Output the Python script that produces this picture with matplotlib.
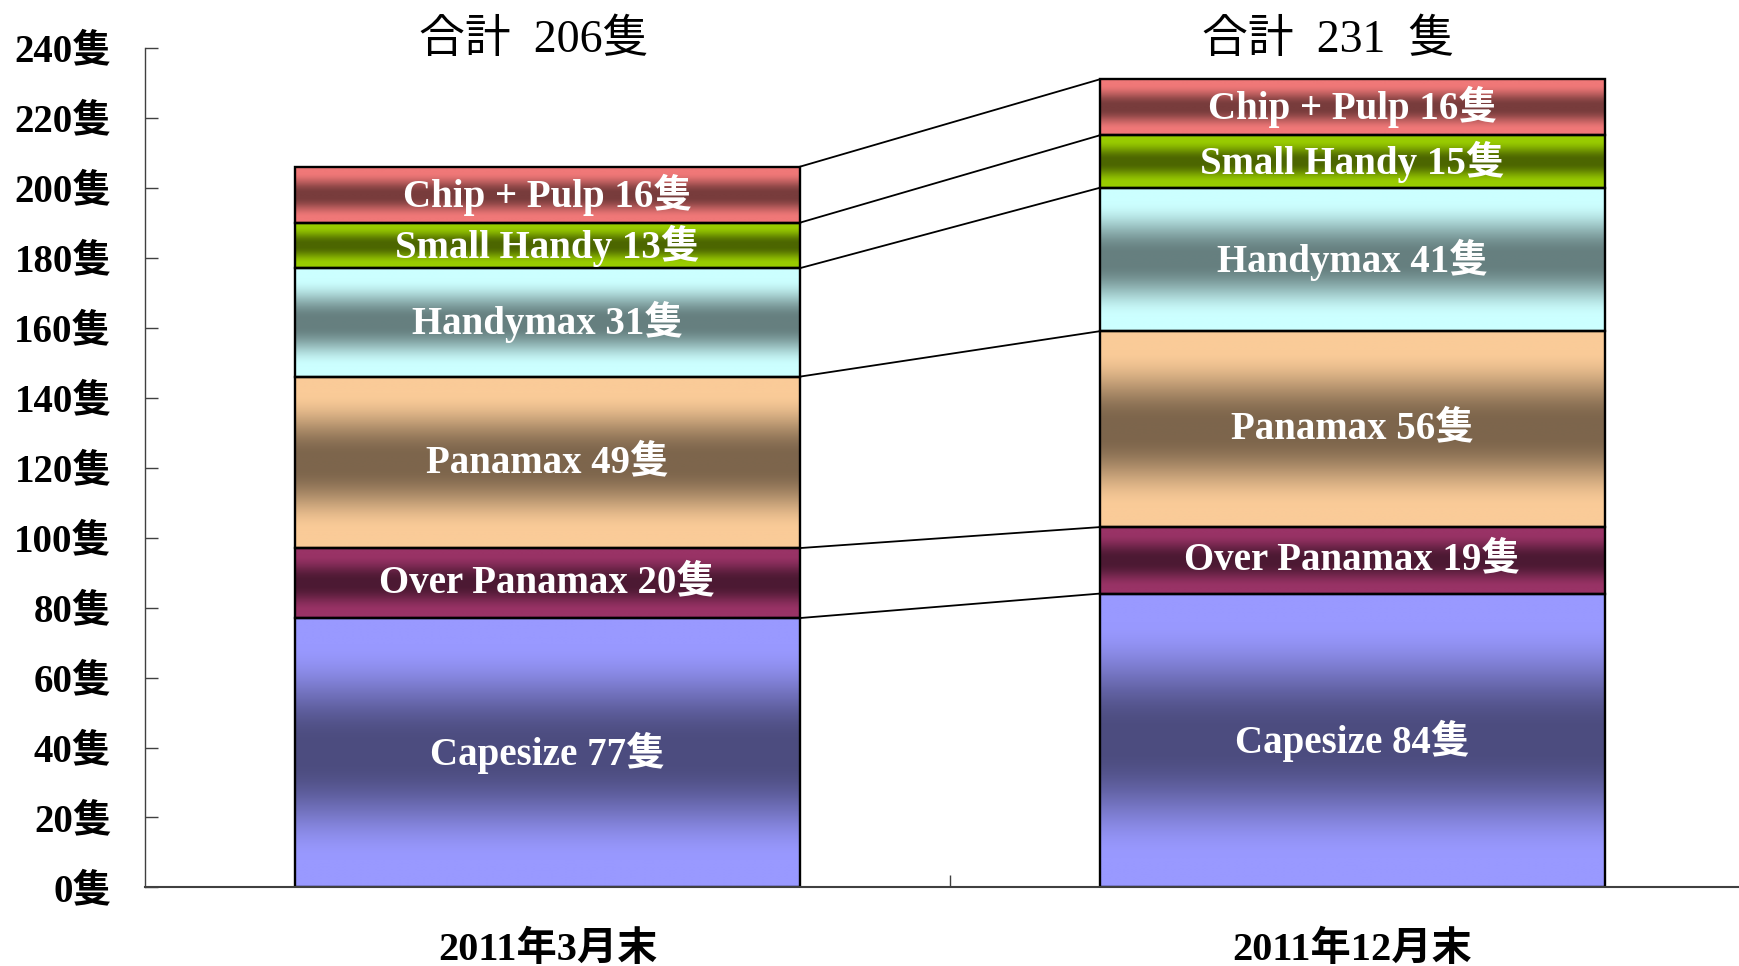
import numpy as np
import matplotlib
matplotlib.use('Agg')
import matplotlib.pyplot as plt
from matplotlib.colors import to_rgb

categories = ['2011年3月末', '2011年12月末']
segments = ['Capesize', 'Over Panamax', 'Panamax', 'Handymax', 'Small Handy', 'Chip + Pulp']
values_mar = [77, 20, 49, 31, 13, 16]
values_dec = [84, 19, 56, 41, 15, 16]
totals = ['合計  206隻', '合計  231  隻']
yticks = list(range(0, 241, 20))
ytick_labels = [f'{v}隻' for v in yticks]
colors = ['#9999FF', '#993366', '#FACB98', '#CCFFFF', '#99CC00', '#F07878']

FAM = ['Liberation Serif', 'Noto Sans CJK JP']
plt.rcParams['font.family'] = FAM

fig = plt.figure(figsize=(17.39, 9.66), dpi=100)
ax = fig.add_axes([0.0834, 0.0813, 0.9166, 0.8693])

width = 0.627
xs = [0, 1]
series = [values_mar, values_dec]

N = 256
t = np.linspace(0, 1, N)
d = np.abs(2 * t - 1)
f = np.clip((d - 0.08) / 0.72, 0, 1)
f = f * f * (3 - 2 * f)

for x, vals in zip(xs, series):
    bottom = 0
    for seg, v, c in zip(segments, vals, colors):
        light = np.array(to_rgb(c))
        dark = light * 0.5
        grad = dark[None, :] + (light - dark)[None, :] * f[:, None]
        ax.imshow(grad[:, None, :], extent=(x - width / 2, x + width / 2, bottom, bottom + v),
                  origin='lower', aspect='auto', interpolation='bilinear', zorder=1)
        ax.bar(x, v, width, bottom=bottom, fill=False, edgecolor='black', linewidth=1.7, zorder=2)
        ax.text(x, bottom + v / 2, f'{seg} {v}隻', color='white', fontsize=28, fontweight='bold',
                ha='center', va='center', zorder=3, family=FAM)
        bottom += v

cum_mar = np.cumsum(values_mar)
cum_dec = np.cumsum(values_dec)
for a, b in zip(cum_mar, cum_dec):
    ax.plot([xs[0] + width / 2, xs[1] - width / 2], [a, b], color='black', linewidth=1.3, zorder=2)

title_offsets = [-0.017, -0.031]
for x, txt, off in zip(xs, totals, title_offsets):
    ax.text(x + off, 242, txt, fontsize=33, ha='center', va='center', clip_on=False, family=FAM)

ax.set_xlim(-0.5, 1.48)
ax.set_ylim(0, 240)
ax.set_yticks(yticks)
ax.set_yticklabels(ytick_labels, fontsize=28, fontweight='bold')
ax.set_xticks(xs)
ax.set_xticklabels(categories, fontsize=29, fontweight='bold')
ax.tick_params(axis='x', length=0, pad=31)
ax.set_xticks([0.5], minor=True)
ax.tick_params(axis='x', which='minor', direction='in', length=9, width=1, color='#404040')
ax.tick_params(axis='y', direction='in', length=9, width=1, pad=24, color='#404040')

for s in ['top', 'right']:
    ax.spines[s].set_visible(False)
ax.spines['left'].set_color('#404040')
ax.spines['left'].set_linewidth(1)
ax.spines['bottom'].set_color('#404040')
ax.spines['bottom'].set_linewidth(1.5)

fig.savefig('out.png', dpi=100)
